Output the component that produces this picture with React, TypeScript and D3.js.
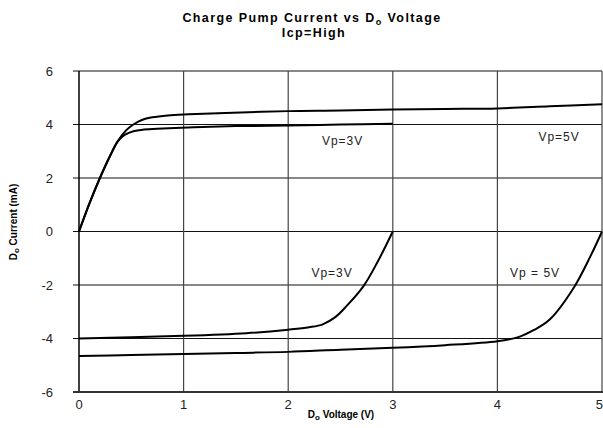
import React from "react";
import * as d3 from "d3";

// tick values
const xTicks = [0, 1, 2, 3, 4, 5];
const yTicks = [-6, -4, -2, 0, 2, 4, 6];

// [voltage, current]
const vp5Source: [number, number][] = [
  [0, 0], [0.1, 1.05], [0.2, 2.0], [0.3, 2.85], [0.37, 3.37], [0.45, 3.78],
  [0.52, 4.0], [0.6, 4.17], [0.7, 4.27], [0.85, 4.34], [1.05, 4.38],
  [1.4, 4.43], [2, 4.5], [2.5, 4.52], [3, 4.56], [3.5, 4.58], [4, 4.6],
  [4.5, 4.68], [5, 4.76],
];
const vp3Source: [number, number][] = [
  [0, 0], [0.1, 1.05], [0.2, 2.0], [0.3, 2.85], [0.37, 3.37], [0.44, 3.62],
  [0.52, 3.75], [0.62, 3.81], [0.8, 3.85], [1.1, 3.9], [1.5, 3.94],
  [2, 3.96], [2.5, 4.0], [3, 4.03],
];
const vp3Sink: [number, number][] = [
  [0, -4.0], [0.5, -3.95], [1, -3.9], [1.6, -3.8], [2.0, -3.67],
  [2.2, -3.58], [2.33, -3.47], [2.45, -3.2], [2.55, -2.82], [2.72, -2.04],
  [2.85, -1.17], [3, 0],
];
const vp5Sink: [number, number][] = [
  [0, -4.65], [0.5, -4.62], [1, -4.58], [1.5, -4.54], [2, -4.5],
  [2.5, -4.42], [3, -4.35], [3.5, -4.25], [4, -4.1], [4.2, -3.95],
  [4.35, -3.68], [4.5, -3.29], [4.73, -2.1], [4.89, -0.92], [5, 0],
];

// curve labels: [voltage, current, text]
const curveLabels: [number, number, string][] = [
  [2.52, 3.25, "Vp=3V"],
  [4.59, 3.4, "Vp=5V"],
  [2.42, -1.69, "Vp=3V"],
  [4.36, -1.69, "Vp = 5V"],
];

const W = 603;
const H = 428;
const margin = { top: 71, right: 1, bottom: 36, left: 79 };
const font = "'Liberation Sans', Arial, sans-serif";

const App: React.FC = () => {
  const x = d3.scaleLinear().domain([0, 5]).range([margin.left, W - margin.right]);
  const y = d3.scaleLinear().domain([-6, 6]).range([H - margin.bottom, margin.top]);

  const line = d3
    .line<[number, number]>()
    .x((d) => x(d[0]))
    .y((d) => y(d[1]))
    .curve(d3.curveCatmullRom.alpha(0.5));

  const series = [vp5Source, vp3Source, vp3Sink, vp5Sink];
  const lastTick = xTicks[xTicks.length - 1];

  return (
    <svg
      width={W}
      height={H}
      style={{ position: "absolute", left: 0, top: 0, background: "#fff" }}
      fontFamily={font}
    >
      {/* title */}
      <text x={312} y={22} textAnchor="middle" fontSize={12.5} fontWeight="bold" letterSpacing={1.4}>
        Charge Pump Current vs D
        <tspan fontSize={9} dy={3}>o</tspan>
        <tspan dy={-3}> Voltage</tspan>
      </text>
      <text x={314} y={37} textAnchor="middle" fontSize={12.5} fontWeight="bold" letterSpacing={1.4}>
        Icp=High
      </text>

      {/* horizontal grid + ticks */}
      {yTicks.map((t) => (
        <line
          key={"h" + t}
          x1={margin.left - 6}
          x2={W - margin.right}
          y1={y(t)}
          y2={y(t)}
          stroke="#111"
          strokeWidth={1}
        />
      ))}
      {/* vertical grid */}
      {xTicks.slice(1).map((t) => (
        <line
          key={"v" + t}
          x1={x(t)}
          x2={x(t)}
          y1={y(6)}
          y2={y(-6)}
          stroke="#444"
          strokeWidth={1.2}
        />
      ))}
      {/* axes */}
      <line x1={x(0)} x2={x(0)} y1={y(6)} y2={y(-6)} stroke="#000" strokeWidth={1.5} />
      <line x1={margin.left - 6} x2={W} y1={y(-6)} y2={y(-6)} stroke="#333" strokeWidth={2} />

      {/* y tick labels */}
      {yTicks.map((t) => (
        <text key={"yl" + t} x={53} y={y(t)} dy="0.36em" textAnchor="end" fontSize={13} fill="#222">
          {t}
        </text>
      ))}
      {/* x tick labels */}
      {xTicks.map((t) => (
        <text
          key={"xl" + t}
          x={t === lastTick ? W : x(t)}
          y={y(-6) + 17}
          textAnchor={t === lastTick ? "end" : "middle"}
          fontSize={13}
          fill="#222"
        >
          {t}
        </text>
      ))}

      {/* axis titles */}
      <text x={341} y={418} textAnchor="middle" fontSize={10} fontWeight="bold">
        D<tspan fontSize={8} dy={2}>o</tspan>
        <tspan dy={-2}> Voltage (V)</tspan>
      </text>
      <text
        transform="translate(17,222) rotate(-90)"
        textAnchor="middle"
        fontSize={10}
        fontWeight="bold"
      >
        D<tspan fontSize={8} dy={2}>o</tspan>
        <tspan dy={-2}> Current (mA)</tspan>
      </text>

      {/* curves */}
      {series.map((s, i) => (
        <path key={"s" + i} d={line(s) || ""} fill="none" stroke="#000" strokeWidth={2} />
      ))}

      {/* curve labels */}
      {curveLabels.map(([vx, vy, label], i) => (
        <text
          key={"cl" + i}
          x={x(vx)}
          y={y(vy)}
          textAnchor="middle"
          fontSize={12}
          letterSpacing={1}
          fill="#222"
        >
          {label}
        </text>
      ))}
    </svg>
  );
};

export default App;
